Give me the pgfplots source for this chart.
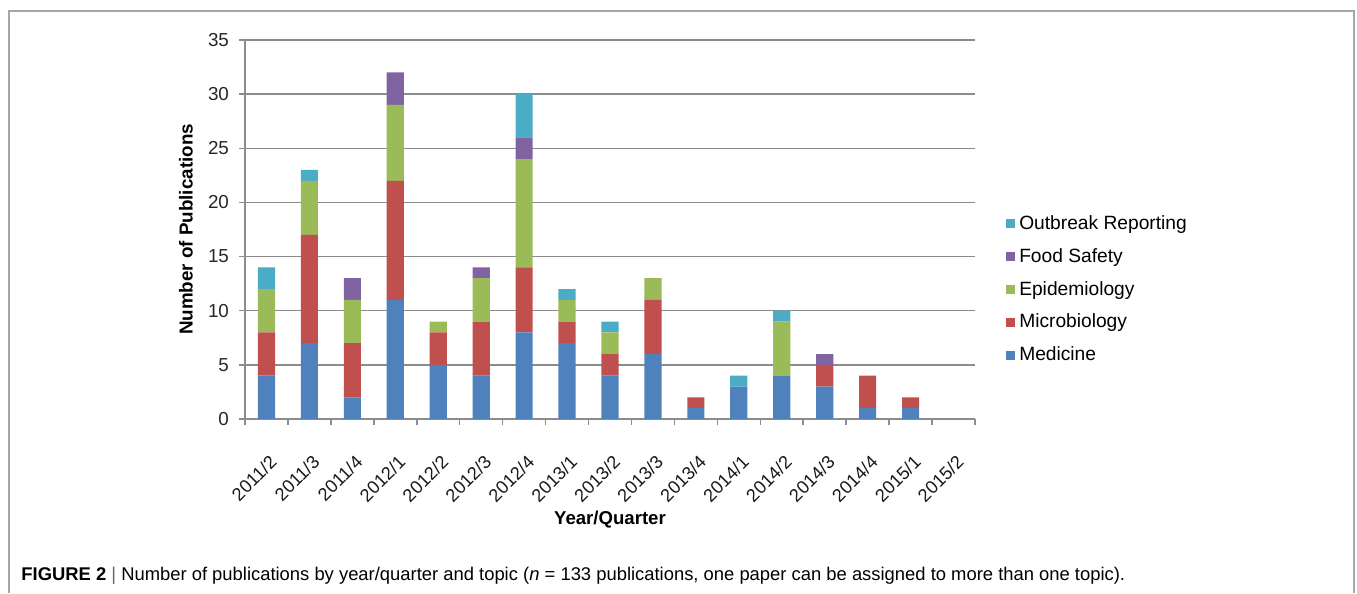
\documentclass[border=0pt]{standalone}
\usepackage{fontspec}
\setmainfont{Liberation Sans}
\usepackage{pgfplots}
\pgfplotsset{compat=1.18}
\definecolor{med}{HTML}{4F81BD}
\definecolor{mic}{HTML}{C0504D}
\definecolor{epi}{HTML}{9BBB59}
\definecolor{food}{HTML}{8064A2}
\definecolor{outb}{HTML}{4BACC6}
\definecolor{gridgray}{HTML}{8C8C8C}
\definecolor{framegray}{HTML}{A6A6A6}
\begin{document}
\begin{tikzpicture}[x=0.5pt,y=0.5pt]
\path (0,0) rectangle (1357,593);
\draw[framegray, line width=1pt] (9,0) -- (9,582) -- (1354,582) -- (1354,0);
\begin{axis}[
  at={(122.5pt,87pt)}, anchor=south west,
  scale only axis, width=365pt, height=189.5pt,
  ybar stacked, bar width=0.4,
  xmin=-0.5, xmax=16.5, ymin=0, ymax=35,
  xtick={0,...,16},
  xticklabels={2011/2,2011/3,2011/4,2012/1,2012/2,2012/3,2012/4,2013/1,2013/2,2013/3,2013/4,2014/1,2014/2,2014/3,2014/4,2015/1,2015/2},
  x tick label style={xshift=1pt, yshift=-13pt, rotate=45, anchor=north east, font=\fontsize{9.1}{10}\selectfont, text=black!90, inner sep=1pt},
  major x tick style={draw=none},
  minor xtick={-0.5,0.5,...,16.5},
  minor tick length=3pt,
  ytick={0,5,...,35},
  y tick label style={font=\fontsize{9.4}{10}\selectfont, text=black!85, xshift=-1.5pt},
  /pgf/number format/assume math mode=true,
  tick align=outside,
  major tick length=3pt,
  tick style={gridgray, line width=0.75pt},
  ymajorgrids, grid style={gridgray, line width=0.75pt},
  axis x line*=bottom, axis y line*=left,
  axis line style={gridgray, line width=0.75pt, -},
  xlabel={\bfseries Year/Quarter},
  ylabel={\bfseries Number of Publications},
  xlabel style={font=\fontsize{9.3}{11}\selectfont, at={(axis description cs:0.5,-0.266)}, anchor=center},
  ylabel style={font=\fontsize{9.4}{11}\selectfont, at={(axis description cs:-0.081,0.5)}, anchor=center},
  legend style={at={(1.042,0.549)}, anchor=north west, draw=none, fill=none,
    font=\fontsize{9.6}{11}\selectfont, row sep=4pt, inner sep=0pt},
  legend cell align=left,
  reverse legend,
  legend image code/.code={\fill[#1] (0pt,-2.3pt) rectangle (4.6pt,2.3pt);},
  every axis plot/.append style={draw=none},
]
\addplot[fill=med] coordinates {(0,4) (1,7) (2,2) (3,11) (4,5) (5,4) (6,8) (7,7) (8,4) (9,6) (10,1) (11,3) (12,4) (13,3) (14,1) (15,1) (16,0)};
\addplot[fill=mic] coordinates {(0,4) (1,10) (2,5) (3,11) (4,3) (5,5) (6,6) (7,2) (8,2) (9,5) (10,1) (11,0) (12,0) (13,2) (14,3) (15,1) (16,0)};
\addplot[fill=epi] coordinates {(0,4) (1,5) (2,4) (3,7) (4,1) (5,4) (6,10) (7,2) (8,2) (9,2) (10,0) (11,0) (12,5) (13,0) (14,0) (15,0) (16,0)};
\addplot[fill=food] coordinates {(0,0) (1,0) (2,2) (3,3) (4,0) (5,1) (6,2) (7,0) (8,0) (9,0) (10,0) (11,0) (12,0) (13,1) (14,0) (15,0) (16,0)};
\addplot[fill=outb] coordinates {(0,2) (1,1) (2,0) (3,0) (4,0) (5,0) (6,4) (7,1) (8,1) (9,0) (10,0) (11,1) (12,1) (13,0) (14,0) (15,0) (16,0)};
\legend{Medicine,Microbiology,Epidemiology,Food Safety,Outbreak Reporting}
\end{axis}
\node[anchor=west, inner sep=0pt, font=\fontsize{9.2}{11}\selectfont] at (21,17) {\textbf{FIGURE 2} {\color{black!60}|} Number of publications by year/quarter and topic (\textit{n} = 133 publications, one paper can be assigned to more than one topic).};
\end{tikzpicture}
\end{document}
